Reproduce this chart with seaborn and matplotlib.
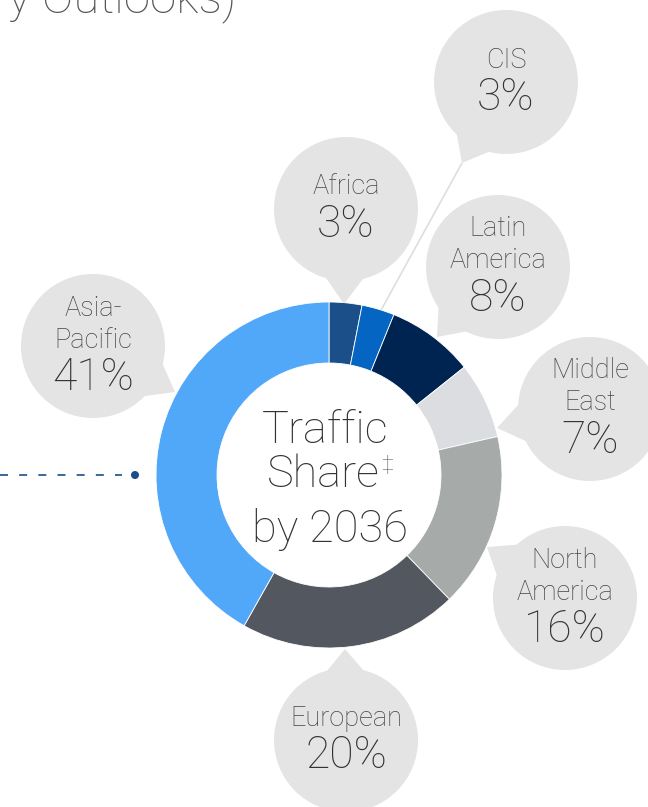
import numpy as np
import matplotlib
matplotlib.use("Agg")
import matplotlib.pyplot as plt
from matplotlib.patches import Circle, Polygon
import seaborn as sns

# ---------------- data ----------------
regions = ["Africa", "CIS", "Latin America", "Middle East", "North America", "European", "Asia-Pacific"]
label_lines = [["Africa"], ["CIS"], ["Latin", "America"], ["Middle", "East"],
               ["North", "America"], ["European"], ["Asia-", "Pacific"]]
shares = [3, 3, 8, 7, 16, 20, 41]
slice_colors = ["#1a4f8a", "#0565c2", "#002452", "#dcdde0", "#a6aaa9", "#535860", "#52a8f8"]
center_lines = ["Traffic", "Share", "by 2036"]
title_fragment = "ry Outlooks)"

# ---------------- layout (pixel coords, y from top) ----------------
W, H = 648, 807
bubble_centers = {
    "Africa": (346, 209), "CIS": (506, 82), "Latin America": (498, 267),
    "Middle East": (590, 409), "North America": (565, 598),
    "European": (346, 740), "Asia-Pacific": (93, 346),
}
bubble_tips = {
    "Africa": (344, 304), "CIS": (462, 163), "Latin America": (437, 337),
    "Middle East": (497, 428), "North America": (487, 547),
    "European": (345, 649), "Asia-Pacific": (175, 392),
}
R_BUB = 72
DONUT_C = (329, 475)
R_OUT, R_W = 173, 61

sns.set_theme(style="white")
plt.rcParams["font.family"] = ["Roboto", "DejaVu Sans"]
palette = sns.color_palette(slice_colors)

fig = plt.figure(figsize=(W / 100, H / 100), dpi=100)
ax = fig.add_axes([0, 0, 1, 1])

def Y(y):
    return H - y

BUB_COL = "#e4e4e4"
LBL_COL = "#454545"
PCT_COL = "#333333"

# CIS connector line
ax.plot([462, 380], [Y(163), Y(312)], color="#dedede", lw=1.2, zorder=1, solid_capstyle="butt")

# bubbles
for reg, lines, val in zip(regions, label_lines, shares):
    cx, cy = bubble_centers[reg]
    tx, ty = bubble_tips[reg]
    ax.add_patch(Circle((cx, Y(cy)), R_BUB, facecolor=BUB_COL, edgecolor="none", zorder=1))
    phi = np.arctan2(Y(ty) - Y(cy), tx - cx)
    d = np.radians(17)
    rr = R_BUB * 0.97
    pts = [(cx + rr * np.cos(phi + d), Y(cy) + rr * np.sin(phi + d)),
           (tx, Y(ty)),
           (cx + rr * np.cos(phi - d), Y(cy) + rr * np.sin(phi - d))]
    ax.add_patch(Polygon(pts, closed=True, facecolor=BUB_COL, edgecolor="none", zorder=1))
    n = len(lines)
    span = 32 * (n - 1) + 38
    y0 = cy - 3 - span / 2
    for i, ln in enumerate(lines):
        ax.text(cx, Y(y0 + 32 * i), ln, ha="center", va="center", fontsize=19.5,
                fontweight="light", color=LBL_COL, zorder=5)
    ax.text(cx, Y(y0 + 32 * (n - 1) + 38), f"{val}%", ha="center", va="center",
            fontsize=32, fontweight="light", color=PCT_COL, zorder=5)

# donut
ax.pie(shares, colors=palette, startangle=90, counterclock=False, radius=R_OUT,
       center=(DONUT_C[0], Y(DONUT_C[1])),
       wedgeprops=dict(width=R_W, edgecolor="white", linewidth=0.6))
for w in ax.patches[-len(shares):]:
    w.set_zorder(3)

# center text
ax.text(325, Y(443), center_lines[0], ha="center", va="baseline", fontsize=32.5,
        fontweight="light", color=PCT_COL, zorder=6)
share_txt = ax.text(323, Y(487), center_lines[1], ha="center", va="baseline", fontsize=32.5,
                    fontweight="light", color=PCT_COL, zorder=6)
ax.annotate("\u2021", xy=(1, 1), xycoords=share_txt, xytext=(1, -1), textcoords="offset points",
            ha="left", va="top", fontsize=15, fontweight="light", color="#555555", zorder=6)
ax.text(330, Y(542), center_lines[2], ha="center", va="baseline", fontsize=32.5,
        fontweight="light", color=PCT_COL, zorder=6)

# dashed pointer line with dot
ax.plot([0, 122], [Y(475), Y(475)], color="#1a4f8a", lw=1.2, dashes=(4.8, 6.7), zorder=2)
ax.add_patch(Circle((135, Y(475)), 4, facecolor="#1a4f8a", edgecolor="none", zorder=2))

# cropped title fragment (cut off at the top edge, as in the reference)
ax.text(236, Y(13), title_fragment, ha="right", va="baseline", fontsize=34,
        fontweight="light", color="#555555")

ax.set_xlim(0, W)
ax.set_ylim(0, H)
ax.set_aspect("equal")
ax.axis("off")
fig.savefig("out.png", dpi=100, facecolor="white")
